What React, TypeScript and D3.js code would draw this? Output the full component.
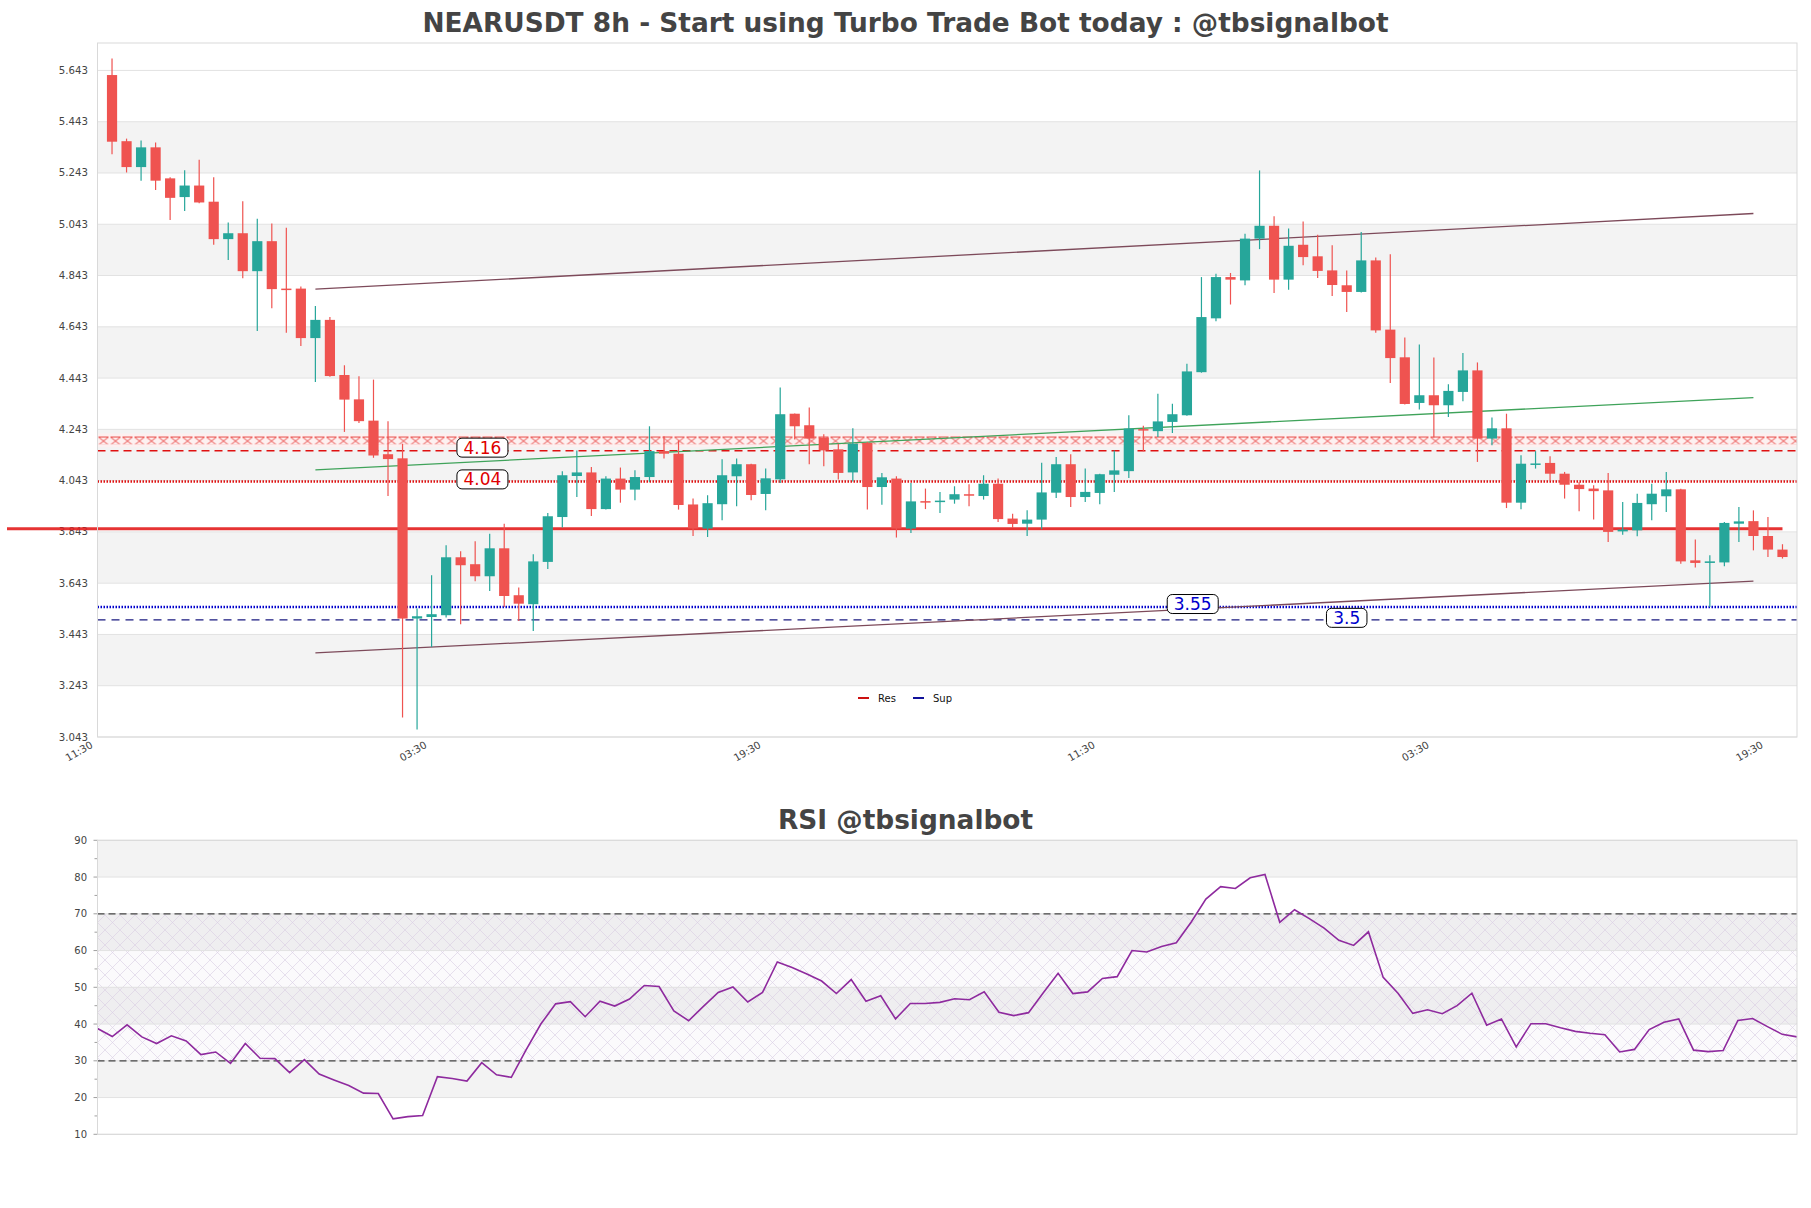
import React from 'react';
import * as d3 from 'd3';

const opens = [5.625,5.367,5.266,5.343,5.222,5.149,5.194,5.131,4.985,5.008,4.860,4.977,4.792,4.792,4.599,4.670,4.455,4.360,4.277,4.146,
4.130,3.505,3.511,3.518,3.744,3.717,3.670,3.779,3.596,3.561,3.726,3.901,4.061,4.075,3.932,4.051,4.008,4.057,4.158,4.148,
3.950,3.856,3.951,4.060,4.107,3.991,4.048,4.304,4.259,4.211,4.165,4.075,4.190,4.018,4.051,3.856,3.963,3.960,3.969,3.990,
3.983,4.031,3.895,3.875,3.891,3.996,4.107,3.979,3.995,4.066,4.080,4.244,4.236,4.272,4.298,4.466,4.676,4.837,4.824,4.987,
5.037,4.827,4.963,4.918,4.863,4.805,4.779,4.902,4.632,4.524,4.346,4.376,4.337,4.389,4.473,4.207,4.247,3.957,4.108,4.112,
4.070,4.027,4.012,4.005,3.845,3.849,3.951,3.982,4.009,3.732,3.722,3.724,3.875,3.885,3.827,3.774];
const highs = [5.690,5.377,5.370,5.362,5.226,5.254,5.295,5.226,5.050,5.133,5.064,5.046,5.029,4.800,4.724,4.681,4.493,4.450,4.437,4.275,
4.187,3.544,3.674,3.791,3.768,3.807,3.836,3.875,3.626,3.756,3.917,4.080,4.161,4.096,4.060,4.094,4.083,4.255,4.216,4.200,
3.973,3.986,4.126,4.129,4.109,4.090,4.406,4.305,4.328,4.224,4.187,4.247,4.194,4.073,4.060,4.034,4.012,3.999,4.021,4.029,
4.064,4.051,3.914,3.927,4.113,4.135,4.146,4.090,4.070,4.161,4.298,4.257,4.382,4.343,4.499,4.837,4.850,4.853,5.006,5.253,
5.074,5.026,5.054,5.002,4.961,4.863,5.013,4.913,4.926,4.601,4.574,4.523,4.419,4.541,4.504,4.289,4.304,4.142,4.158,4.138,
4.077,4.038,4.025,4.073,3.960,3.992,4.031,4.077,4.011,3.813,3.752,3.882,3.940,3.927,3.901,3.795];
const lows = [5.316,5.245,5.213,5.177,5.060,5.095,5.125,4.963,4.904,4.832,4.627,4.715,4.620,4.568,4.428,4.448,4.233,4.268,4.132,3.983,
3.119,3.072,3.394,3.509,3.483,3.651,3.612,3.550,3.495,3.456,3.698,3.860,3.979,3.905,3.930,3.957,3.966,4.038,4.129,3.930,
3.827,3.823,3.888,3.943,3.966,3.927,4.034,4.203,4.107,4.099,4.047,4.040,3.930,3.949,3.821,3.839,3.932,3.917,3.953,3.943,
3.969,3.882,3.858,3.827,3.853,3.975,3.940,3.960,3.951,3.999,4.053,4.158,4.213,4.229,4.296,4.464,4.665,4.730,4.805,4.946,
4.775,4.788,4.883,4.833,4.763,4.701,4.777,4.620,4.424,4.340,4.320,4.211,4.291,4.353,4.116,4.181,3.936,3.931,4.090,4.044,
3.973,3.924,3.891,3.804,3.832,3.826,3.888,3.921,3.719,3.704,3.550,3.709,3.804,3.771,3.745,3.739];
const closes = [5.365,5.266,5.343,5.213,5.146,5.194,5.128,4.985,5.008,4.860,4.977,4.790,4.790,4.599,4.670,4.451,4.359,4.275,4.141,4.127,
3.505,3.514,3.522,3.744,3.713,3.670,3.779,3.593,3.563,3.728,3.904,4.064,4.075,3.932,4.051,4.008,4.057,4.158,4.148,3.948,
3.856,3.955,4.064,4.107,3.987,4.052,4.302,4.255,4.207,4.161,4.073,4.187,4.018,4.056,3.856,3.962,3.960,3.965,3.990,3.986,
4.031,3.893,3.874,3.891,3.997,4.107,3.979,3.999,4.068,4.083,4.246,4.240,4.274,4.302,4.469,4.681,4.837,4.827,4.987,5.037,
4.827,4.959,4.915,4.861,4.806,4.779,4.902,4.629,4.521,4.342,4.376,4.337,4.393,4.473,4.207,4.247,3.957,4.109,4.110,4.070,
4.027,4.010,4.002,3.843,3.852,3.956,3.992,4.009,3.728,3.722,3.728,3.878,3.884,3.827,3.774,3.745];

const rsiValues = [38.8,36.6,39.8,36.5,34.7,36.8,35.4,31.7,32.4,29.3,
34.7,30.7,30.6,26.8,30.3,26.4,24.8,23.3,21.2,21.1,
14.2,14.8,15.1,25.7,25.2,24.5,29.5,26.2,25.5,33.0,
40.0,45.5,46.1,42.0,46.2,44.9,46.8,50.5,50.2,43.6,
40.9,44.8,48.6,50.1,46.0,48.6,56.9,55.4,53.6,51.7,
48.3,52.1,46.2,47.7,41.4,45.6,45.6,45.9,46.9,46.6,
48.75,43.2,42.3,43.1,48.5,53.8,48.3,48.75,52.4,52.9,
60.0,59.6,61.1,62.1,67.7,74.0,77.4,76.9,79.8,80.7,
67.7,71.1,68.7,66.1,62.8,61.4,65.1,52.7,48.4,42.9,
43.9,42.8,45.0,48.4,39.7,41.4,33.8,40.1,40.1,39.0,
38.0,37.5,37.1,32.4,33.1,38.5,40.5,41.4,32.9,32.5,
32.8,41.0,41.5,39.3,37.2,36.5];

const priceTicks = [3.043,3.243,3.443,3.643,3.843,4.043,4.243,4.443,4.643,4.843,5.043,5.243,5.443,5.643];
const timeTickIdx = [-1,22,45,68,91,114];
const timeTickLabels = ['11:30','03:30','19:30','11:30','03:30','19:30'];
const rsiTicks = [10,20,30,40,50,60,70,80,90];
const rsiMinorTicks = [15,25,35,45,55,65,75,85];

const resLevels = [4.16, 4.04];
const supLevels = [3.55, 3.5];
const resLabelIdx = [25.5, 25.5];
const supLabelIdx = [74.4, 85.0];
const pivotLevel = 3.855;
const zoneBand = [4.185, 4.215];
const trendIdx = [14, 113];
const upperTrend = [4.79, 5.085];
const midTrend = [4.085, 4.367];
const lowerTrend = [3.371, 3.651];
const rsiGuides = [70, 30];
const rsiZone = [30, 70];

const N = opens.length;
const FONT = "'DejaVu Sans', sans-serif";
const UP = '#26a69a';
const DOWN = '#ef5350';

export default function App() {
  const L = 97.5, R = 1797;
  const x = d3.scaleLinear().domain([-1, N]).range([L, R]);
  const y = d3.scaleLinear().domain([3.043, 5.75]).range([737, 43]);
  const xr = d3.scaleLinear().domain([0, rsiValues.length - 1]).range([L, R]);
  const yr = d3.scaleLinear().domain([10, 90]).range([1134.3, 840.3]);
  const bw = 10.2;

  const bands: [number, number][] = [];
  for (let i = 1; i + 1 < priceTicks.length; i += 2) bands.push([priceTicks[i], priceTicks[i + 1]]);
  const rbands: [number, number][] = [];
  for (let i = 1; i + 1 < rsiTicks.length; i += 2) rbands.push([rsiTicks[i], rsiTicks[i + 1]]);

  const rsiLine = d3.line<number>().x((_, i) => xr(i)).y(d => yr(d));

  const trend = (vals: number[], color: string) => (
    <line x1={x(trendIdx[0])} y1={y(vals[0])} x2={x(trendIdx[1])} y2={y(vals[1])} stroke={color} strokeWidth={1.3} />
  );

  const box = (cx: number, cy: number, label: string, color: string) => {
    const w = label.length * 10.5 + 9;
    return (
      <g>
        <rect x={cx - w / 2} y={cy - 9.5} width={w} height={19} rx={5} fill="white" stroke="black" strokeWidth={1} />
        <text x={cx} y={cy + 6} textAnchor="middle" fontFamily={FONT} fontSize={17} fill={color}>{label}</text>
      </g>
    );
  };

  return (
    <div style={{ position: 'absolute', left: 0, top: 0 }}>
      <svg width={1811} height={1208} style={{ display: 'block', background: 'white' }}>
        <defs>
          <pattern id="xhatch" width={12} height={9} patternUnits="userSpaceOnUse" x={L} y={y(zoneBand[1])}>
            <path d="M1,0.5 L11,0.5 M1,8.5 L11,8.5 M1,0.5 L11,8.5 M11,0.5 L1,8.5" stroke="#e53935" strokeWidth={0.9} fill="none" />
          </pattern>
          <pattern id="rsihatch" width={15} height={15} patternUnits="userSpaceOnUse">
            <path d="M0,0 L15,15 M15,0 L0,15" stroke="#d9cde3" strokeWidth={0.6} fill="none" />
          </pattern>
          <clipPath id="mainclip"><rect x={L} y={43} width={R - L} height={694} /></clipPath>
        </defs>

        {/* main title */}
        <text x={905.5} y={32} textAnchor="middle" fontFamily={FONT} fontWeight="bold" fontSize={26.4} fill="#444">
          NEARUSDT 8h - Start using Turbo Trade Bot today : @tbsignalbot
        </text>

        {/* bands */}
        {bands.map((b, i) => (
          <rect key={i} x={L} y={y(b[1])} width={R - L} height={y(b[0]) - y(b[1])} fill="#f3f3f3" />
        ))}
        {priceTicks.map((t, i) => (
          <line key={i} x1={L} x2={R} y1={y(t)} y2={y(t)} stroke="#e2e2e2" strokeWidth={1} />
        ))}
        {priceTicks.map((t, i) => (
          <text key={i} x={88} y={y(t) + 3.5} textAnchor="end" fontFamily={FONT} fontSize={10.2} fill="#444">{t.toFixed(3)}</text>
        ))}
        {timeTickIdx.map((t, i) => (
          <text key={i} transform={`translate(${x(t) - 4},${747}) rotate(-30)`} textAnchor="end" fontFamily={FONT} fontSize={10.2} fill="#444">{timeTickLabels[i]}</text>
        ))}

        <g clipPath="url(#mainclip)">
          {/* zone band */}
          <rect x={L} y={y(zoneBand[1]) - 3} width={R - L} height={y(zoneBand[0]) - y(zoneBand[1]) + 6} fill="#fdf0f0" />
          <rect x={L} y={y(zoneBand[1])} width={R - L} height={y(zoneBand[0]) - y(zoneBand[1])} fill="url(#xhatch)" />
          {/* levels */}
          <line x1={L} x2={R} y1={y(resLevels[0])} y2={y(resLevels[0])} stroke="#e01010" strokeWidth={1.5} strokeDasharray="8,5" />
          <line x1={L} x2={R} y1={y(resLevels[1])} y2={y(resLevels[1])} stroke="#e01010" strokeWidth={2.5} strokeDasharray="1.5,1.5" />
          <line x1={L} x2={R} y1={y(supLevels[0])} y2={y(supLevels[0])} stroke="#0000cc" strokeWidth={2.5} strokeDasharray="1.5,1.5" />
          <line x1={L} x2={R} y1={y(supLevels[1])} y2={y(supLevels[1])} stroke="#1a1a80" strokeWidth={1.3} strokeDasharray="8,6" />
          {/* trend lines */}
          {trend(upperTrend, '#7d4a5a')}
          {trend(midTrend, '#3fa35a')}
          {trend(lowerTrend, '#7d4a5a')}
        </g>
        {/* pivot line extends left */}
        <line x1={7} x2={x(N - 1)} y1={y(pivotLevel)} y2={y(pivotLevel)} stroke="#e41e1e" strokeWidth={3} opacity={0.9} />

        {/* candles */}
        {opens.map((o, i) => {
          const c = closes[i];
          const up = c >= o;
          const col = up ? UP : DOWN;
          const top = y(Math.max(o, c));
          const bot = y(Math.min(o, c));
          return (
            <g key={i}>
              <line x1={x(i)} x2={x(i)} y1={y(highs[i])} y2={y(lows[i])} stroke={col} strokeWidth={1.2} />
              <rect x={x(i) - bw / 2} y={top} width={bw} height={Math.max(1.5, bot - top)} fill={col} />
            </g>
          );
        })}

        {box(x(resLabelIdx[0]), y(resLevels[0]) - 3, '4.16', '#e00000')}
        {box(x(resLabelIdx[1]), y(resLevels[1]) - 2, '4.04', '#e00000')}
        {box(x(supLabelIdx[0]), y(supLevels[0]) - 3, '3.55', '#0000cc')}
        {box(x(supLabelIdx[1]), y(supLevels[1]) - 2, '3.5', '#0000cc')}

        {/* legend */}
        <line x1={858} x2={869} y1={698} y2={698} stroke="#cc1111" strokeWidth={2} />
        <text x={878} y={701.5} fontFamily={FONT} fontSize={10} fill="#111">Res</text>
        <line x1={913} x2={924} y1={698} y2={698} stroke="#11119a" strokeWidth={2} />
        <text x={933} y={701.5} fontFamily={FONT} fontSize={10} fill="#111">Sup</text>

        {/* main frame */}
        <rect x={L} y={43} width={R - L} height={694} fill="none" stroke="#d9d9d9" strokeWidth={1} />

        {/* RSI */}
        <text x={905.5} y={829} textAnchor="middle" fontFamily={FONT} fontWeight="bold" fontSize={26.4} fill="#444">RSI @tbsignalbot</text>
        {rbands.map((b, i) => (
          <rect key={i} x={L} y={yr(b[1])} width={R - L} height={yr(b[0]) - yr(b[1])} fill="#f3f3f3" />
        ))}
        <rect x={L} y={yr(rsiZone[1])} width={R - L} height={yr(rsiZone[0]) - yr(rsiZone[1])} fill="#8a5aa8" opacity={0.03} />
        <rect x={L} y={yr(rsiZone[1])} width={R - L} height={yr(rsiZone[0]) - yr(rsiZone[1])} fill="url(#rsihatch)" />
        {rsiTicks.map((t, i) => (
          <g key={i}>
            <line x1={L} x2={R} y1={yr(t)} y2={yr(t)} stroke="#e2e2e2" strokeWidth={1} />
            <line x1={L - 4} x2={L} y1={yr(t)} y2={yr(t)} stroke="#888" strokeWidth={0.8} />
            <text x={87} y={yr(t) + 3.5} textAnchor="end" fontFamily={FONT} fontSize={10} fill="#444">{t}</text>
          </g>
        ))}
        {rsiMinorTicks.map((t, i) => (
          <line key={i} x1={L - 3} x2={L} y1={yr(t)} y2={yr(t)} stroke="#888" strokeWidth={0.8} />
        ))}
        {rsiGuides.map((g, i) => (
          <line key={i} x1={L} x2={R} y1={yr(g)} y2={yr(g)} stroke="#444" strokeWidth={1.2} strokeDasharray="7,4" />
        ))}
        <path d={rsiLine(rsiValues) || ''} fill="none" stroke="#8e2a9e" strokeWidth={1.6} />
        <rect x={L} y={840.3} width={R - L} height={294} fill="none" stroke="#d9d9d9" strokeWidth={1} />
      </svg>
    </div>
  );
}
